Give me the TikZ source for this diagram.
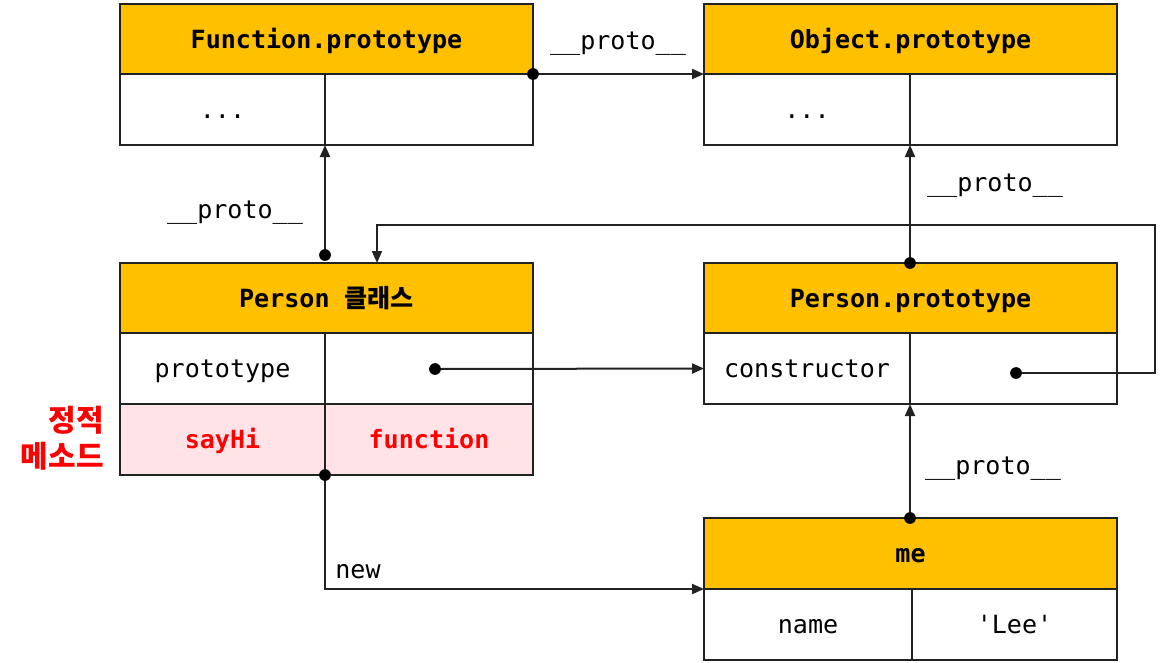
\documentclass[tikz,border=0pt]{standalone}
\usepackage{fontspec}
\setmonofont{DejaVu Sans Mono}
\newfontfamily\krfont{Noto Sans CJK KR}
\usetikzlibrary{arrows.meta}
\definecolor{hdrcol}{HTML}{FFC000}
\definecolor{pinkcol}{HTML}{FFE3E6}
\definecolor{redtxt}{HTML}{FF0000}
\definecolor{linecol}{HTML}{222222}
\begin{document}
\begin{tikzpicture}[x=0.75pt,y=-0.75pt,
  txt/.style={font=\ttfamily\fontsize{18.8}{22}\selectfont},
  sz/.style 2 args={minimum width=#1*0.75pt, minimum height=#2*0.75pt},
  cell/.style={draw=linecol, line width=1.5pt, inner sep=0pt, outer sep=0pt, anchor=north west, txt,
               text height=14.2pt, text depth=0pt},
  hdr/.style={cell, fill=hdrcol, font=\ttfamily\bfseries\fontsize{18.8}{22}\selectfont},
  pink/.style={cell, fill=pinkcol, text=redtxt, font=\ttfamily\bfseries\fontsize{18.8}{22}\selectfont},
  conn/.style={draw=linecol, line width=1.5pt, -{Triangle[length=9pt,width=7.5pt]}},
  lbl/.style={txt, inner sep=0pt}
]
\useasboundingbox (0,0) rectangle (1162,662);

% Function.prototype
\node[hdr, sz={413}{70}] (fh) at (120,4) {Function.prototype};
\node[cell, sz={205}{71}] (fl) at (120,74) {...};
\node[cell, sz={208}{71}] (fr) at (325,74) {};

% Object.prototype
\node[hdr, sz={413}{70}] (oh) at (704,4) {Object.prototype};
\node[cell, sz={206}{71}] (ol) at (704,74) {...};
\node[cell, sz={207}{71}] (or) at (910,74) {};

% Person class
\node[hdr, sz={413}{70}] (ch) at (120,263) {Person {\krfont\bfseries 클래스}};
\node[cell, sz={205}{71}] (cl) at (120,333) {prototype};
\node[cell, sz={208}{71}] (cr) at (325,333) {};
\node[pink, sz={205}{71}] (sl) at (120,404) {sayHi};
\node[pink, sz={208}{71}] (sr) at (325,404) {function};

% Person.prototype
\node[hdr, sz={413}{70}] (ph) at (704,263) {Person.prototype};
\node[cell, sz={206}{71}] (pl) at (704,333) {constructor};
\node[cell, sz={207}{71}] (pr) at (910,333) {};

% me
\node[hdr, sz={413}{71}] (mh) at (704,518) {me};
\node[cell, sz={208}{71}] (ml) at (704,589) {name};
\node[cell, sz={205}{71}] (mr) at (912,589) {'Lee'};

% static method label
\node[anchor=east, align=right, text=redtxt, inner sep=0pt,
      font=\krfont\bfseries\fontsize{22.5}{27}\selectfont] (static) at (104,438) {정적\\메소드};

% coordinates
\coordinate (d1) at (fh.south east);
\coordinate (d2) at (325,255);
\coordinate (d3) at (910,263);
\coordinate (d4) at (435,369);
\coordinate (d5) at (1016,373);
\coordinate (d6) at (910,518);
\coordinate (d7) at (325,475);
\coordinate (loopR) at (1155,225);
\coordinate (loopL) at (377,225);

% connectors
\draw[conn] (d1) -- (oh.south west);
\draw[conn] (d2) -- (fl.south east);
\draw[conn] (d3) -- (ol.south east);
\draw[conn] (d4) -- (pl.west);
\draw[conn] (d5) -| (loopR) -- (loopL) -- (loopL |- ch.north);
\draw[conn] (d6) -- (pl.south east);
\draw[conn] (d7) |- (mh.south west);

% dots
\foreach \d in {d1,d2,d3,d4,d5,d6,d7} \fill (\d) circle (4.4pt);

% labels
\node[lbl] (l1) at (618,44) {\_\_proto\_\_};
\node[lbl] (l2) at (235,213) {\_\_proto\_\_};
\node[lbl] (l3) at (995,186) {\_\_proto\_\_};
\node[lbl] (l4) at (993,469) {\_\_proto\_\_};
\node[lbl] (l5) at (358,572) {new};
\end{tikzpicture}
\end{document}
